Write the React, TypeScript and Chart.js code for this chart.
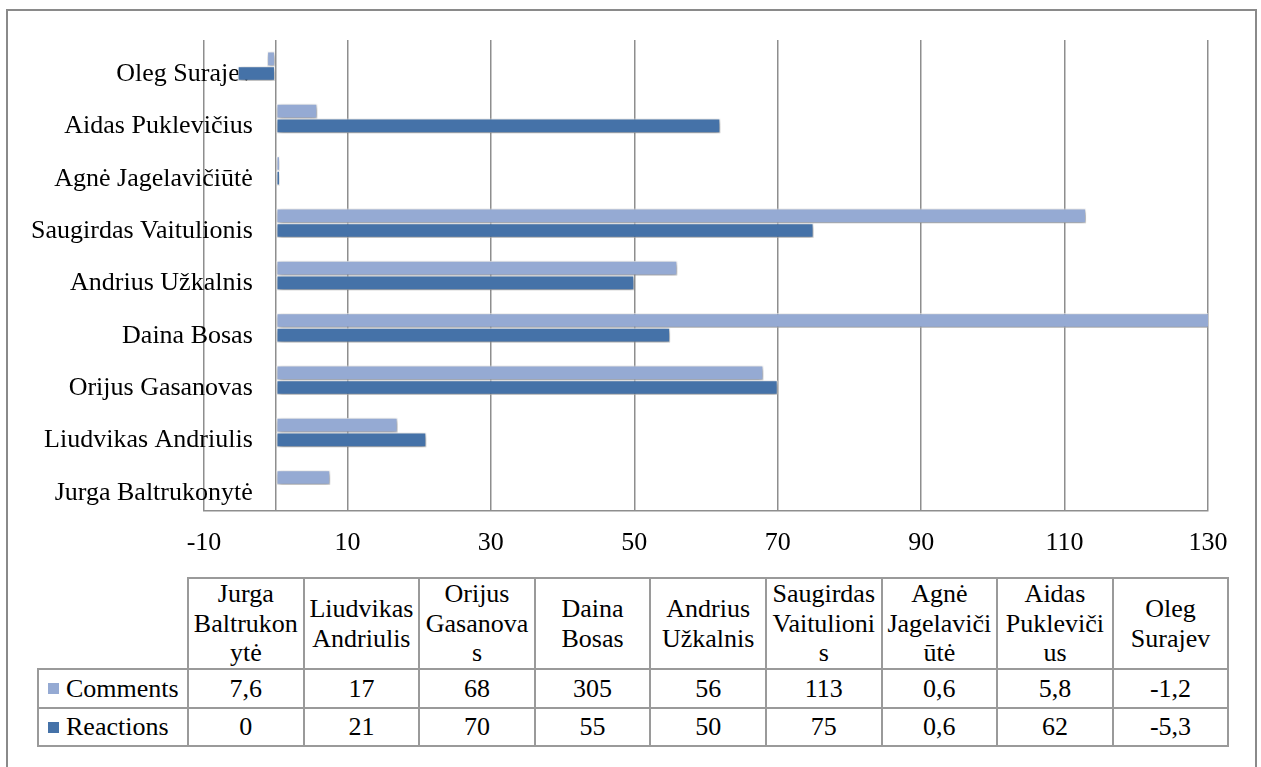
import { useEffect, useRef } from 'react';
import { Chart, registerables } from 'chart.js';

Chart.register(...registerables);

// data in table order (bottom row of the chart first)
const people = [
  'Jurga Baltrukonytė',
  'Liudvikas Andriulis',
  'Orijus Gasanovas',
  'Daina Bosas',
  'Andrius Užkalnis',
  'Saugirdas Vaitulionis',
  'Agnė Jagelavičiūtė',
  'Aidas Puklevičius',
  'Oleg Surajev',
];
const comments = [7.6, 17, 68, 305, 56, 113, 0.6, 5.8, -1.2];
const reactions = [0, 21, 70, 55, 50, 75, 0.6, 62, -5.3];
// 0 is only there for the vertical axis line, its label is hidden
const xTicks = [-10, 0, 10, 30, 50, 70, 90, 110, 130];

const FONT = '"Liberation Serif", "Times New Roman", serif';
const LIGHT = '#95aad3';
const DARK = '#4572a8';
const GRID = '#8e8e8e';

const fmt = (v: number) => String(v).replace('.', ',');

const shadowPlugin = {
  id: 'barShadow',
  beforeDatasetsDraw(chart: Chart) {
    const c = chart.ctx;
    c.save();
    c.shadowColor = 'rgba(0, 0, 0, 0.45)';
    c.shadowBlur = 5;
    c.shadowOffsetX = 1;
    c.shadowOffsetY = 2;
  },
  afterDatasetsDraw(chart: Chart) {
    chart.ctx.restore();
  },
};

function BarChart() {
  const chartRef = useRef<HTMLCanvasElement>(null);
  const chartInstance = useRef<Chart | null>(null);

  useEffect(() => {
    if (!chartRef.current) return;
    if (chartInstance.current) {
      chartInstance.current.destroy();
    }
    const ctx = chartRef.current.getContext('2d');
    if (!ctx) return;

    chartInstance.current = new Chart(ctx, {
      type: 'bar',
      data: {
        labels: [...people].reverse(),
        datasets: [
          {
            label: 'Comments',
            data: [...comments].reverse(),
            backgroundColor: LIGHT,
            borderColor: '#ffffff',
            borderWidth: 1,
            borderSkipped: false,
            clip: 0,
          },
          {
            label: 'Reactions',
            data: [...reactions].reverse(),
            backgroundColor: DARK,
            borderColor: '#ffffff',
            borderWidth: 1,
            borderSkipped: false,
            clip: 0,
          },
        ],
      },
      options: {
        indexAxis: 'y',
        animation: false,
        responsive: true,
        maintainAspectRatio: false,
        layout: { padding: { top: 40, right: 53, bottom: 0, left: 204 } },
        datasets: { bar: { categoryPercentage: 0.56, barPercentage: 1 } },
        plugins: {
          legend: { display: false },
          tooltip: { enabled: false },
        },
        scales: {
          x: {
            min: -10,
            max: 130,
            afterBuildTicks: (scale) => {
              scale.ticks = xTicks.map(v => ({ value: v }));
            },
            afterFit: (scale) => {
              scale.height = 49;
            },
            grid: { color: GRID, lineWidth: 1.5, drawTicks: false },
            border: { color: GRID, width: 1.5 },
            ticks: {
              padding: 17,
              color: '#000',
              autoSkip: false,
              maxRotation: 0,
              font: { family: FONT, size: 26 },
              callback: (value) => (Number(value) === 0 ? '' : String(value)),
            },
          },
          y: {
            // labels float inside the plot, just left of the 0 line (Excel style)
            position: { x: -3.2 },
            grid: { display: false, drawTicks: false },
            border: { display: false },
            ticks: {
              color: '#000',
              autoSkip: false,
              labelOffset: 8,
              font: { family: FONT, size: 26 },
            },
          },
        },
      },
      plugins: [shadowPlugin],
    });

    return () => {
      if (chartInstance.current) {
        chartInstance.current.destroy();
        chartInstance.current = null;
      }
    };
  }, []);

  return (
    <div style={{ position: 'absolute', left: 0, top: 0, width: 1261, height: 560 }}>
      <canvas ref={chartRef}></canvas>
    </div>
  );
}

const cell: React.CSSProperties = {
  border: '2px solid #9a9a9a',
  textAlign: 'center',
  verticalAlign: 'middle',
  padding: '0 3px',
  overflowWrap: 'anywhere',
};

function DataTable() {
  const legendCell = (color: string, text: string) => (
    <td style={{ ...cell, textAlign: 'left', paddingLeft: 9 }}>
      <span
        style={{
          display: 'inline-block',
          width: 11,
          height: 11,
          background: color,
          marginRight: 7,
          verticalAlign: 'middle',
          position: 'relative',
          top: -2,
        }}
      />
      {text}
    </td>
  );

  return (
    <table
      style={{
        position: 'absolute',
        left: 37,
        top: 577,
        width: 1190,
        borderCollapse: 'collapse',
        tableLayout: 'fixed',
        fontFamily: FONT,
        fontSize: 26,
        color: '#000',
      }}
    >
      <colgroup>
        <col style={{ width: 150 }} />
        {people.map(p => (
          <col key={p} style={{ width: 115.6 }} />
        ))}
      </colgroup>
      <tbody>
        <tr style={{ height: 91 }}>
          <td style={{ border: 'none' }}></td>
          {people.map(p => (
            <td key={p} style={{ ...cell, lineHeight: '29.5px' }}>
              {p}
            </td>
          ))}
        </tr>
        <tr style={{ height: 39 }}>
          {legendCell(LIGHT, 'Comments')}
          {comments.map((v, i) => (
            <td key={i} style={cell}>
              {fmt(v)}
            </td>
          ))}
        </tr>
        <tr style={{ height: 38 }}>
          {legendCell(DARK, 'Reactions')}
          {reactions.map((v, i) => (
            <td key={i} style={cell}>
              {fmt(v)}
            </td>
          ))}
        </tr>
      </tbody>
    </table>
  );
}

export default function App() {
  return (
    <>
      <style>{'body { margin: 0; overflow: hidden; background: #fff; }'}</style>
      <div
        style={{
          position: 'absolute',
          left: 6,
          top: 9,
          width: 1251,
          height: 800,
          border: '2px solid #8a8a8a',
          boxSizing: 'border-box',
        }}
      />
      <BarChart />
      <DataTable />
    </>
  );
}
